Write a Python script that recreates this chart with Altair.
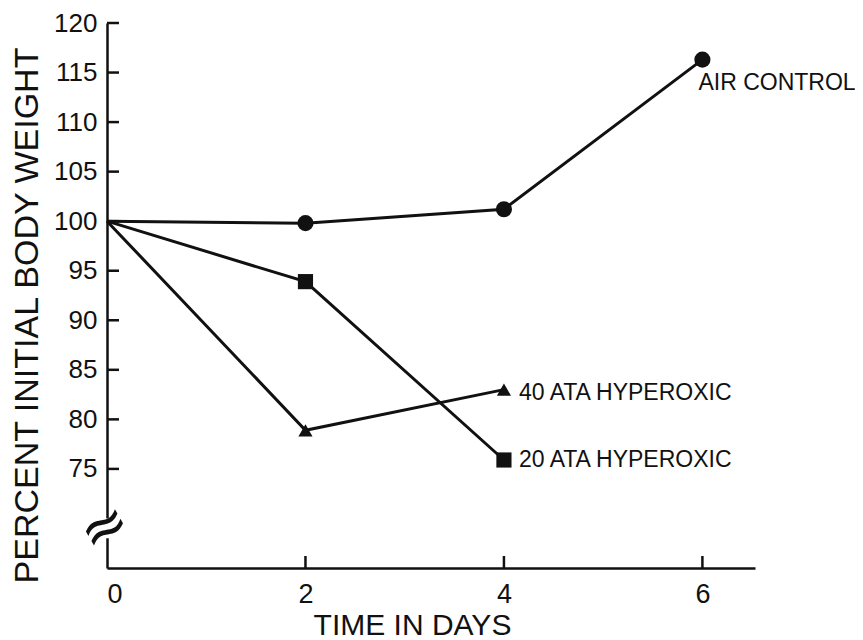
import altair as alt
import pandas as pd

# ---- data ----
days = [0, 2, 4, 6]
air_control = [100, 99.8, 101.2, 116.3]
ata20_days = [0, 2, 4]
ata20 = [100, 93.9, 75.9]
ata40_days = [0, 2, 4]
ata40 = [100, 78.9, 83.0]

series_names = ["AIR CONTROL", "20 ATA HYPEROXIC", "40 ATA HYPEROXIC"]
y_ticks = [75, 80, 85, 90, 95, 100, 105, 110, 115, 120]
x_ticks = [0, 2, 4, 6]
x_inner_ticks = [2, 4, 6]

rows = []
for d, v in zip(days, air_control):
    rows.append({"day": d, "pct": v, "series": series_names[0]})
for d, v in zip(ata20_days, ata20):
    rows.append({"day": d, "pct": v, "series": series_names[1]})
for d, v in zip(ata40_days, ata40):
    rows.append({"day": d, "pct": v, "series": series_names[2]})
df = pd.DataFrame(rows)

FONT = "Liberation Sans"
BLACK = "#111111"

xs = alt.Scale(domain=[0, 6.53], nice=False, zero=False)
ys = alt.Scale(domain=[65, 120], nice=False, zero=False)

x_enc = alt.X("day:Q", scale=xs, axis=alt.Axis(
    values=x_ticks, ticks=False, grid=False, domainColor=BLACK, domainWidth=2.5,
    labelFont=FONT, labelFontSize=27, labelColor=BLACK, labelPadding=13,
    title="TIME IN DAYS", titleFont=FONT, titleFontSize=30, titleFontWeight="normal",
    titleColor=BLACK, titleX=305, titleY=66, titleBaseline="alphabetic", titleAlign="center",
    format="d"))
y_enc = alt.Y("pct:Q", scale=ys, axis=alt.Axis(
    values=y_ticks, ticks=False, grid=False, domainColor=BLACK, domainWidth=2.5,
    labelFont=FONT, labelFontSize=26, labelColor=BLACK, labelPadding=10,
    title="PERCENT INITIAL BODY WEIGHT", titleFont=FONT, titleFontSize=34,
    titleFontWeight="normal", titleColor=BLACK, titleAngle=270, titleX=-70, titleY=292,
    titleBaseline="alphabetic", titleAlign="center"))

base = alt.Chart(df)

lines = base.mark_line(color=BLACK, strokeWidth=3).encode(
    x=x_enc, y=y_enc, detail="series:N")

pts = base.transform_filter(alt.datum.day > 0).mark_point(
    filled=True, color=BLACK, opacity=1).encode(
    x=alt.X("day:Q", scale=xs), y=alt.Y("pct:Q", scale=ys),
    shape=alt.Shape("series:N", scale=alt.Scale(
        domain=series_names, range=["circle", "square", "triangle-up"]), legend=None),
    size=alt.Size("series:N", scale=alt.Scale(
        domain=series_names, range=[260, 200, 300]), legend=None))

# inward-pointing ticks
ytick_df = pd.DataFrame({"v": y_ticks})
yticks = alt.Chart(ytick_df).mark_tick(
    color=BLACK, thickness=2.5, size=12, orient="horizontal", opacity=1).encode(
    y=alt.Y("v:Q", scale=ys), x=alt.value(6))

xtick_df = pd.DataFrame({"v": x_inner_ticks})
xticks = alt.Chart(xtick_df).mark_tick(
    color=BLACK, thickness=2.5, size=12, orient="vertical", opacity=1).encode(
    x=alt.X("v:Q", scale=xs), y=alt.value(539))

# axis break
brk_df = pd.DataFrame({"lo": [68.0], "hi": [70.0], "mid": [69.0]})
gap = alt.Chart(brk_df).mark_rect(color="white").encode(
    y=alt.Y("lo:Q", scale=ys), y2="hi:Q", x=alt.value(-4), x2=alt.value(4))
brk = alt.Chart(brk_df).mark_text(
    text="≈", font="DejaVu Sans", fontSize=58, angle=330, color=BLACK,
    align="center", baseline="middle").encode(
    y=alt.Y("mid:Q", scale=ys), x=alt.value(-2))

# series labels
lab_df = pd.DataFrame({
    "day": [days[-1], ata20_days[-1], ata40_days[-1]],
    "pct": [air_control[-1], ata20[-1], ata40[-1]],
    "name": series_names,
    "dx": [-4, 15, 15],
    "dy": [23, 0, 3],
})
labels = []
for i in range(3):
    r = lab_df.iloc[[i]]
    labels.append(alt.Chart(r).mark_text(
        font=FONT, fontSize=23, color=BLACK, align="left", baseline="middle",
        dx=int(r["dx"].iloc[0]), dy=int(r["dy"].iloc[0])).encode(
        x=alt.X("day:Q", scale=xs), y=alt.Y("pct:Q", scale=ys), text="name:N"))

chart = alt.layer(lines, yticks, xticks, gap, brk, pts, *labels).properties(
    width=648, height=545,
    padding={"left": 99, "top": 15, "right": 100, "bottom": 72},
    autosize="none",
    background="white",
).configure_view(stroke=None)

chart.save("out.html", embed_options={"renderer": "svg", "actions": False})
